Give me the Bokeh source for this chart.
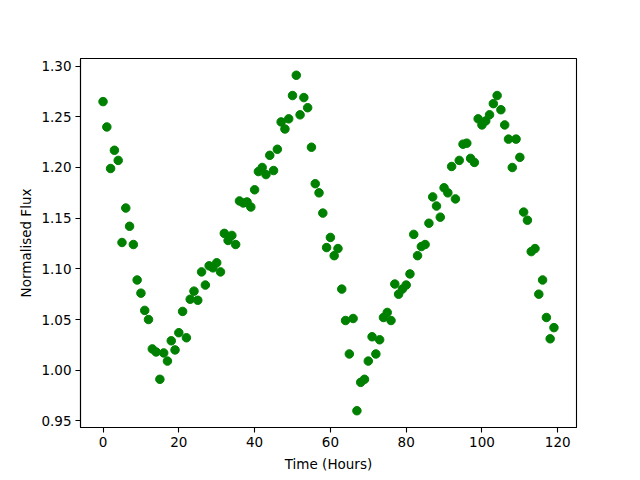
from bokeh.plotting import figure
from bokeh.models import Range1d, FixedTicker, NumeralTickFormatter
from bokeh.embed import file_html
from bokeh.resources import INLINE

hours = list(range(120))
flux = [
    1.265, 1.240, 1.199, 1.217, 1.207, 1.126, 1.160, 1.142, 1.124, 1.089,
    1.076, 1.059, 1.050, 1.021, 1.018, 0.991, 1.017, 1.009, 1.029, 1.020,
    1.037, 1.058, 1.032, 1.070, 1.078, 1.069, 1.097, 1.084, 1.103, 1.101,
    1.106, 1.097, 1.135, 1.128, 1.133, 1.124, 1.167, 1.165, 1.166, 1.161,
    1.178, 1.196, 1.200, 1.193, 1.212, 1.197, 1.218, 1.245, 1.238, 1.248,
    1.271, 1.291, 1.252, 1.269, 1.259, 1.220, 1.184, 1.175, 1.155, 1.121,
    1.131, 1.113, 1.120, 1.080, 1.049, 1.016, 1.051, 0.960, 0.988, 0.991,
    1.009, 1.033, 1.016, 1.030, 1.052, 1.057, 1.049, 1.085, 1.075, 1.080,
    1.084, 1.095, 1.134, 1.113, 1.122, 1.124, 1.145, 1.171, 1.162, 1.151,
    1.180, 1.175, 1.201, 1.169, 1.207, 1.223, 1.224, 1.209, 1.205, 1.248,
    1.242, 1.246, 1.252, 1.263, 1.271, 1.257, 1.242, 1.228, 1.200, 1.228,
    1.210, 1.156, 1.148, 1.117, 1.120, 1.075, 1.089, 1.052, 1.031, 1.042,
]
x_ticks = [0, 20, 40, 60, 80, 100, 120]
y_ticks = [0.95, 1.00, 1.05, 1.10, 1.15, 1.20, 1.25, 1.30]

xpad = (max(hours) - min(hours)) * 0.05
ypad = (max(flux) - min(flux)) * 0.05

p = figure(width=640, height=480, output_backend="svg", toolbar_location=None,
           x_range=Range1d(min(hours) - xpad, max(hours) + xpad),
           y_range=Range1d(min(flux) - ypad, max(flux) + ypad),
           frame_width=496, frame_height=369,
           min_border_left=80, min_border_top=58, min_border_right=64, min_border_bottom=53)

p.scatter(hours, flux, size=8.5, color="#008000", line_color="#008000")

p.xgrid.visible = False
p.ygrid.visible = False
p.outline_line_color = "black"
p.outline_line_width = 1.1
p.outline_line_alpha = 1.0

p.xaxis.ticker = FixedTicker(ticks=x_ticks)
p.yaxis.ticker = FixedTicker(ticks=y_ticks)
p.yaxis.formatter = NumeralTickFormatter(format="0.00")
p.xaxis.axis_label = "Time (Hours)"
p.yaxis.axis_label = "Normalised Flux"

for ax in (p.xaxis, p.yaxis):
    ax.axis_line_color = "black"
    ax.axis_line_width = 1.1
    ax.major_tick_line_color = "black"
    ax.major_tick_line_width = 1.1
    ax.major_tick_out = 5
    ax.major_tick_in = 0
    ax.minor_tick_line_color = None
    ax.major_label_text_font = "DejaVu Sans"
    ax.major_label_text_font_size = "13.5px"
    ax.major_label_text_color = "black"
    ax.axis_label_text_font = "DejaVu Sans"
    ax.axis_label_text_font_size = "13.5px"
    ax.axis_label_text_font_style = "normal"
    ax.axis_label_text_color = "black"

p.xaxis.major_label_standoff = 4
p.yaxis.major_label_standoff = 4
p.xaxis.axis_label_standoff = 6
p.yaxis.axis_label_standoff = 4

open("out.html", "w").write(file_html(p, INLINE))
